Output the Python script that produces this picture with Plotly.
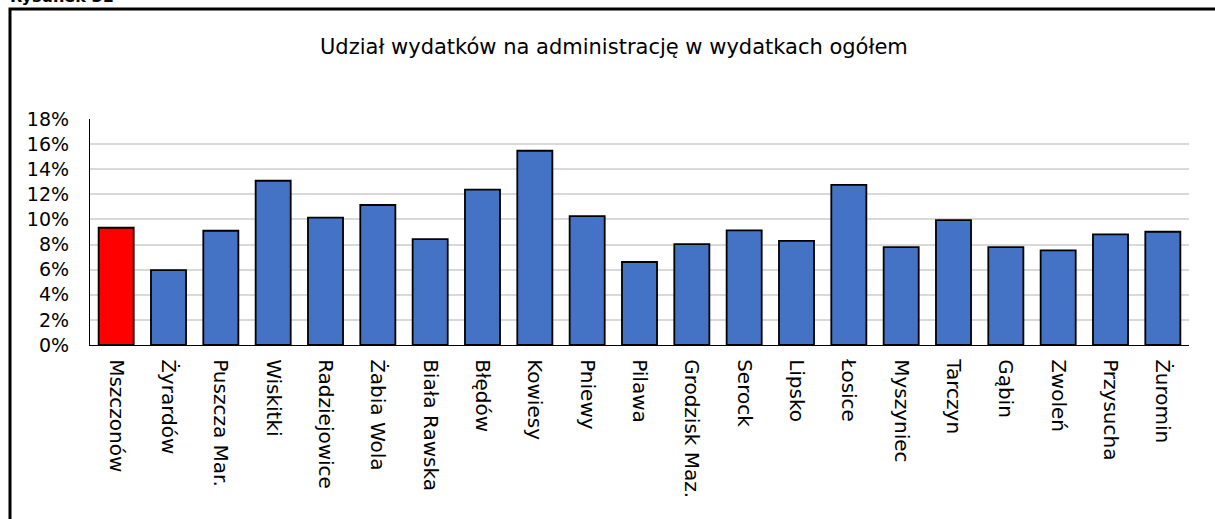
import plotly.graph_objects as go

categories = ["Mszczonów", "Żyrardów", "Puszcza Mar.", "Wiskitki", "Radziejowice",
              "Żabia Wola", "Biała Rawska", "Błędów", "Kowiesy", "Pniewy", "Pilawa",
              "Grodzisk Maz.", "Serock", "Lipsko", "Łosice", "Myszyniec", "Tarczyn",
              "Gąbin", "Zwoleń", "Przysucha", "Żuromin"]
values = [0.0934, 0.0597, 0.0910, 0.1308, 0.1014, 0.1115, 0.0844, 0.1237, 0.1547,
          0.1027, 0.0661, 0.0804, 0.0913, 0.0830, 0.1276, 0.0780, 0.0995, 0.0780,
          0.0754, 0.0881, 0.0902]
highlight = "Mszczonów"
title_text = "Udział wydatków na administrację w wydatkach ogółem"
fig_label = "Rysunek 31"
y_ticks = [0, 0.02, 0.04, 0.06, 0.08, 0.10, 0.12, 0.14, 0.16, 0.18]

colors = ["#FF0000" if c == highlight else "#4472C4" for c in categories]
FONT = "DejaVu Sans"

fig = go.Figure(go.Bar(
    x=categories, y=values,
    marker=dict(color=colors, line=dict(color="black", width=1.8)),
))

W, H = 1215, 519
ml, mr, mt, mb = 90, 26, 119, 174
pw, ph = W - ml - mr, H - mt - mb

def px_x(x):
    return (x - ml) / pw

def px_y(y):
    return (H - mb - y) / ph

fig.update_layout(
    width=W, height=H, autosize=False,
    margin=dict(l=ml, r=mr, t=mt, b=mb, pad=0),
    paper_bgcolor="white", plot_bgcolor="white",
    bargap=0.33, showlegend=False,
    font=dict(family=FONT, color="black", size=15),
    xaxis=dict(tickangle=90, tickfont=dict(size=20, family=FONT), showline=True,
               linecolor="black", linewidth=1.3, ticks="", showgrid=False,
               ticklabelstandoff=9, automargin=False),
    yaxis=dict(range=[0, 0.18], tickvals=y_ticks, tickformat=".0%",
               tickfont=dict(size=19, family=FONT), showline=True, linecolor="black",
               linewidth=1.3, showgrid=True, gridcolor="#d9d9d9", gridwidth=1.5,
               ticks="", zeroline=False, ticklabelstandoff=16, automargin=False),
    shapes=[dict(type="rect", xref="paper", yref="paper",
                 x0=px_x(10), x1=px_x(1300), y0=px_y(9), y1=px_y(700),
                 line=dict(color="black", width=3), fillcolor="rgba(0,0,0,0)",
                 layer="below")],
    annotations=[
        dict(text=title_text, xref="paper", yref="paper", x=px_x(614), y=px_y(47),
             xanchor="center", yanchor="middle", showarrow=False,
             font=dict(size=21, family=FONT)),
        dict(text="<b>" + fig_label + "</b>", xref="paper", yref="paper",
             x=px_x(8), y=px_y(8), xanchor="left", yanchor="bottom", showarrow=False,
             font=dict(size=16, family=FONT)),
    ],
)

fig.write_html("out.html", config={"displayModeBar": False},
               post_script="document.body.style.margin='0px';")
